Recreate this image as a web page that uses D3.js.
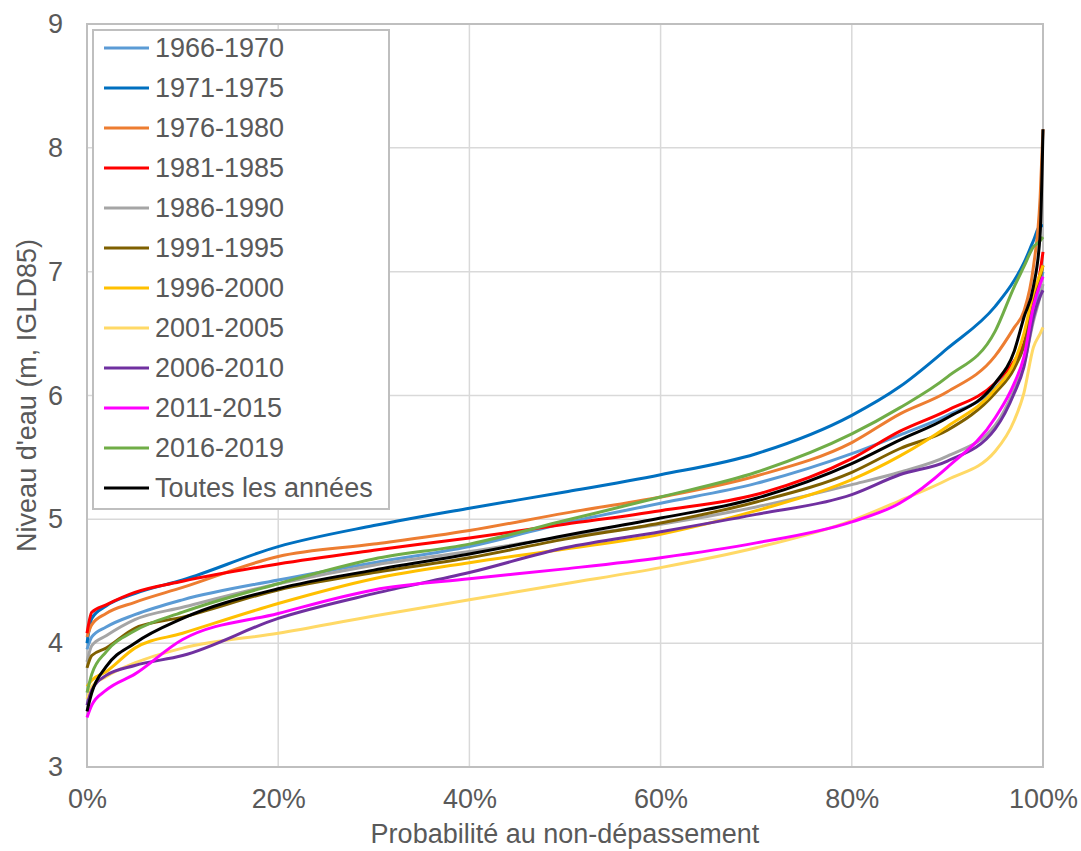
<!DOCTYPE html>
<html>
<head>
<meta charset="utf-8">
<script src="https://cdn.jsdelivr.net/npm/d3@7"></script>
<style>
  body { margin: 0; background: #fff; }
  text { font-family: "Liberation Sans", Arial, sans-serif; }
</style>
</head>
<body>
<div id="vis"></div>
<script>
// Probabilités (axe X) communes à toutes les séries
const PROBS = [0, 0.005, 0.02, 0.05, 0.1, 0.2, 0.3, 0.4, 0.5, 0.6, 0.7, 0.8, 0.85, 0.9, 0.95, 0.97, 0.98, 0.99, 0.997, 1];

// Niveaux d'eau (m, IGLD85)
const S_1966_1970 = [3.95, 4.05, 4.13, 4.23, 4.35, 4.51, 4.65, 4.78, 4.97, 5.13, 5.29, 5.53, 5.68, 5.84, 6.06, 6.25, 6.40, 6.65, 6.90, 7.00];
const S_1971_1975 = [4.00, 4.20, 4.30, 4.40, 4.51, 4.78, 4.95, 5.09, 5.22, 5.36, 5.53, 5.84, 6.07, 6.38, 6.72, 6.93, 7.07, 7.25, 7.37, 7.37];
const S_1976_1980 = [4.05, 4.15, 4.24, 4.33, 4.45, 4.70, 4.80, 4.91, 5.05, 5.18, 5.35, 5.62, 5.85, 6.03, 6.32, 6.55, 6.68, 7.04, 7.60, 8.15];
const S_1981_1985 = [4.08, 4.25, 4.31, 4.41, 4.50, 4.64, 4.75, 4.85, 4.96, 5.07, 5.20, 5.49, 5.71, 5.88, 6.10, 6.28, 6.42, 6.75, 7.00, 7.16];
const S_1986_1990 = [3.85, 3.98, 4.06, 4.19, 4.29, 4.48, 4.63, 4.74, 4.86, 4.96, 5.10, 5.28, 5.38, 5.51, 5.76, 6.05, 6.25, 6.60, 6.80, 6.90];
const S_1991_1995 = [3.80, 3.90, 3.96, 4.12, 4.21, 4.43, 4.57, 4.69, 4.84, 4.97, 5.14, 5.38, 5.57, 5.72, 6.02, 6.22, 6.40, 6.75, 6.95, 7.05];
const S_1996_2000 = [3.65, 3.70, 3.77, 3.96, 4.08, 4.32, 4.52, 4.65, 4.76, 4.88, 5.07, 5.32, 5.51, 5.75, 6.05, 6.27, 6.50, 6.83, 6.98, 7.05];
const S_2001_2005 = [3.55, 3.65, 3.73, 3.84, 3.96, 4.08, 4.22, 4.35, 4.48, 4.61, 4.77, 4.99, 5.15, 5.32, 5.55, 5.80, 6.02, 6.39, 6.50, 6.55];
const S_2006_2010 = [3.50, 3.62, 3.74, 3.82, 3.90, 4.20, 4.40, 4.57, 4.77, 4.90, 5.04, 5.20, 5.36, 5.47, 5.73, 6.02, 6.23, 6.63, 6.80, 6.85];
const S_2011_2015 = [3.40, 3.50, 3.62, 3.75, 4.03, 4.24, 4.43, 4.52, 4.60, 4.69, 4.81, 4.98, 5.13, 5.42, 5.82, 6.10, 6.31, 6.72, 6.90, 6.96];
const S_2016_2019 = [3.60, 3.75, 3.93, 4.10, 4.25, 4.48, 4.68, 4.80, 4.99, 5.18, 5.38, 5.69, 5.90, 6.15, 6.52, 6.88, 7.04, 7.20, 7.25, 7.28];
const S_TOUTES    = [3.45, 3.60, 3.81, 4.00, 4.20, 4.44, 4.59, 4.72, 4.87, 5.01, 5.17, 5.45, 5.64, 5.82, 6.10, 6.36, 6.63, 6.88, 7.30, 8.15];

const NOMS = ["1966-1970", "1971-1975", "1976-1980", "1981-1985", "1986-1990", "1991-1995",
              "1996-2000", "2001-2005", "2006-2010", "2011-2015", "2016-2019", "Toutes les années"];
const VALEURS = [S_1966_1970, S_1971_1975, S_1976_1980, S_1981_1985, S_1986_1990, S_1991_1995,
                 S_1996_2000, S_2001_2005, S_2006_2010, S_2011_2015, S_2016_2019, S_TOUTES];
const COULEURS = ["#5B9BD5", "#0070C0", "#ED7D31", "#FF0000", "#A5A5A5", "#7F6000",
                  "#FFC000", "#FFD966", "#7030A0", "#FF00FF", "#70AD47", "#000000"];

const Y_TICKS = [3, 4, 5, 6, 7, 8, 9];
const X_TICKS = [0, 0.2, 0.4, 0.6, 0.8, 1];

const WIDTH = 1081;
const HEIGHT = 851;
const MARGIN = { top: 24, right: 38, bottom: 84, left: 87 };
const FONT = 27;
const GRIS_TEXTE = "#595959";

const SVG = d3.select("#vis").append("svg")
    .attr("width", WIDTH)
    .attr("height", HEIGHT);

const series = NOMS.map((nom, i) => ({
    nom: nom,
    couleur: COULEURS[i],
    points: PROBS.map((p, j) => ({ p: p, v: VALEURS[i][j] }))
}));

const escalaX = d3.scaleLinear()
    .domain([0, 1])
    .range([MARGIN.left, WIDTH - MARGIN.right]);

const escalaY = d3.scaleLinear()
    .domain([3, 9])
    .range([HEIGHT - MARGIN.bottom, MARGIN.top]);

// Grille
const grille = SVG.append("g");
grille.selectAll("line.gy")
    .data(Y_TICKS)
    .join("line")
    .attr("class", "gy")
    .attr("x1", escalaX(0)).attr("x2", escalaX(1))
    .attr("y1", d => escalaY(d)).attr("y2", d => escalaY(d))
    .attr("stroke", "#d9d9d9").attr("stroke-width", 1.5);
grille.selectAll("line.gx")
    .data(X_TICKS)
    .join("line")
    .attr("class", "gx")
    .attr("x1", d => escalaX(d)).attr("x2", d => escalaX(d))
    .attr("y1", escalaY(3)).attr("y2", escalaY(9))
    .attr("stroke", "#d9d9d9").attr("stroke-width", 1.5);

// Cadre de la zone de tracé
SVG.append("rect")
    .attr("x", escalaX(0))
    .attr("y", escalaY(9))
    .attr("width", escalaX(1) - escalaX(0))
    .attr("height", escalaY(3) - escalaY(9))
    .attr("fill", "none")
    .attr("stroke", "#bfbfbf")
    .attr("stroke-width", 2);

// Axes (texte seulement, les lignes sont la grille)
const axeY = d3.axisLeft(escalaY).tickValues(Y_TICKS).tickSize(0).tickPadding(24)
    .tickFormat(d3.format("d"));
SVG.append("g")
    .attr("transform", `translate(${MARGIN.left},0)`)
    .call(axeY)
    .call(g => g.select(".domain").remove())
    .call(g => g.selectAll("text")
        .attr("font-size", FONT)
        .attr("font-family", "Liberation Sans, Arial, sans-serif")
        .attr("fill", GRIS_TEXTE));

const axeX = d3.axisBottom(escalaX).tickValues(X_TICKS).tickSize(0).tickPadding(22)
    .tickFormat(d3.format(".0%"));
SVG.append("g")
    .attr("transform", `translate(0,${HEIGHT - MARGIN.bottom})`)
    .call(axeX)
    .call(g => g.select(".domain").remove())
    .call(g => g.selectAll("text")
        .attr("font-size", FONT)
        .attr("font-family", "Liberation Sans, Arial, sans-serif")
        .attr("fill", GRIS_TEXTE));

// Titres des axes
SVG.append("text")
    .attr("x", (escalaX(0) + escalaX(1)) / 2)
    .attr("y", 843)
    .attr("text-anchor", "middle")
    .attr("font-size", FONT)
    .attr("fill", GRIS_TEXTE)
    .text("Probabilité au non-dépassement");

SVG.append("text")
    .attr("transform", `translate(36,${(escalaY(3) + escalaY(9)) / 2}) rotate(-90)`)
    .attr("text-anchor", "middle")
    .attr("font-size", FONT)
    .attr("fill", GRIS_TEXTE)
    .text("Niveau d'eau (m, IGLD85)");

// Courbes
const ligne = d3.line()
    .x(d => escalaX(d.p))
    .y(d => escalaY(d.v))
    .curve(d3.curveMonotoneX);

SVG.append("g")
    .selectAll("path")
    .data(series)
    .join("path")
    .attr("d", d => ligne(d.points))
    .attr("fill", "none")
    .attr("stroke", d => d.couleur)
    .attr("stroke-width", 3)
    .attr("stroke-linejoin", "round");

// Légende
const LEG_X = 93, LEG_Y = 30, LEG_PAS = 40;
const legende = SVG.append("g");
legende.append("rect")
    .attr("x", LEG_X).attr("y", LEG_Y)
    .attr("width", 296).attr("height", 479)
    .attr("fill", "#fff")
    .attr("stroke", "#bfbfbf")
    .attr("stroke-width", 2);

const items = legende.selectAll("g.item")
    .data(series)
    .join("g")
    .attr("class", "item")
    .attr("transform", (d, i) => `translate(${LEG_X},${LEG_Y + 18 + i * LEG_PAS})`);
items.append("line")
    .attr("x1", 11).attr("x2", 56)
    .attr("stroke", d => d.couleur)
    .attr("stroke-width", 3);
items.append("text")
    .attr("x", 62)
    .attr("dy", "0.35em")
    .attr("font-size", FONT)
    .attr("fill", GRIS_TEXTE)
    .text(d => d.nom);
</script>
</body>
</html>
